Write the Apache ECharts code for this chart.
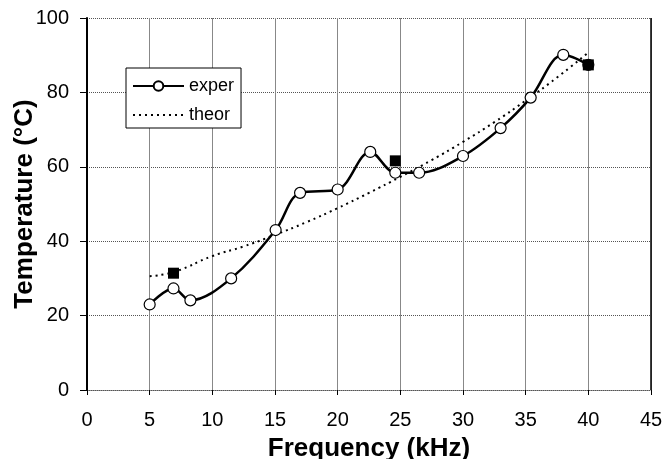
<!DOCTYPE html>
<html lang="en">
<head>
    <meta charset="UTF-8">
    <title>Temperature vs Frequency</title>
    <script src="https://cdn.jsdelivr.net/npm/echarts@6/dist/echarts.min.js"></script>
    <style>
        body { margin: 0; background: #fff; }
    </style>
</head>
<body>
<div style="width:663px;height:459px" id="main"></div>
</body>
</html>

<script>
    // measured points (frequency kHz, temperature °C)
    var experData = [
        [5, 23.0], [6.9, 27.3], [8.25, 24.1], [11.5, 30.0], [15.05, 43.0],
        [17.0, 53.0], [20.0, 53.9], [22.6, 64.0], [24.6, 58.4], [26.5, 58.4],
        [30.0, 62.9], [33.0, 70.4], [35.4, 78.6], [38.0, 90.1], [40.0, 87.4]
    ];
    var theorData = [
        [5, 30.6], [7, 31.8], [10, 36.0], [12.5, 38.6], [15, 41.7], [17.5, 45.1],
        [20, 48.9], [22.5, 53.0], [25, 57.3], [27.5, 61.8], [30, 66.7],
        [32.5, 72.0], [35, 77.8], [37.5, 84.0], [40, 90.7]
    ];
    var squareData = [[6.9, 31.4], [24.6, 61.6], [40.0, 87.4]];

    var chartDom = document.getElementById('main');
    var myChart = echarts.init(chartDom);

    var font = 'Liberation Sans, Arial, sans-serif';

    var option = {
        animation: false,
        backgroundColor: '#fff',
        grid: {
            left: 87,
            right: 12,
            top: 18,
            bottom: 69,
            containLabel: false,
            outerBoundsMode: 'none'
        },
        legend: {
            data: ['exper', { name: 'theor', itemStyle: { opacity: 0 } }],
            orient: 'vertical',
            left: 126,
            top: 68,
            itemWidth: 51,
            itemHeight: 12,
            itemGap: 11,
            padding: [9, 7, 4, 6],
            borderColor: '#000',
            borderWidth: 1,
            backgroundColor: '#fff',
            textStyle: { fontFamily: font, fontSize: 18, color: '#000' }
        },
        xAxis: {
            type: 'value',
            min: 0,
            max: 45,
            interval: 5,
            name: 'Frequency (kHz)',
            nameLocation: 'middle',
            nameGap: 46,
            nameMoveOverlap: false,
            nameTextStyle: { fontFamily: font, fontSize: 26, fontWeight: 'bold', color: '#000' },
            axisLine: { onZero: false, lineStyle: { color: '#555', width: 1, type: 'dotted' } },
            axisTick: { show: true, length: 5, lineStyle: { color: '#000' } },
            axisLabel: { fontFamily: font, fontSize: 20, color: '#000', margin: 20 },
            splitLine: { show: true, lineStyle: { color: '#888', width: 1 } }
        },
        yAxis: {
            type: 'value',
            min: 0,
            max: 100,
            interval: 20,
            name: 'Temperature (°C)',
            nameLocation: 'middle',
            nameGap: 49,
            nameMoveOverlap: false,
            nameTextStyle: { fontFamily: font, fontSize: 26, fontWeight: 'bold', color: '#000' },
            axisLine: { show: true, lineStyle: { color: '#000', width: 2 } },
            axisTick: { show: true, length: 7, lineStyle: { color: '#000' } },
            axisLabel: { fontFamily: font, fontSize: 20, color: '#000', margin: 18 },
            splitLine: { show: true, lineStyle: { color: '#555', width: 1, type: 'dotted' } }
        },
        series: [{
            name: 'theor',
            type: 'line',
            data: theorData,
            smooth: true,
            symbol: 'none',
            lineStyle: { color: '#000', width: 2, type: [2, 4] },
            itemStyle: { color: '#000' },
            z: 2
        }, {
            name: 'exper',
            type: 'line',
            data: experData,
            smooth: 0.35,
            symbol: 'circle',
            symbolSize: 11,
            lineStyle: { color: '#000', width: 2.5 },
            itemStyle: { color: '#fff', borderColor: '#000', borderWidth: 1.2 },
            z: 3
        }, {
            name: 'points',
            type: 'scatter',
            data: squareData,
            symbol: 'rect',
            symbolSize: 11,
            itemStyle: { color: '#000', opacity: 1 },
            z: 4
        }, {
            // right border of the plot area
            type: 'line',
            data: [],
            markLine: {
                silent: true,
                symbol: 'none',
                label: { show: false },
                lineStyle: { color: '#000', width: 1.5, type: 'solid' },
                data: [{ xAxis: 45 }]
            }
        }]
    };

    myChart.setOption(option);
</script>
